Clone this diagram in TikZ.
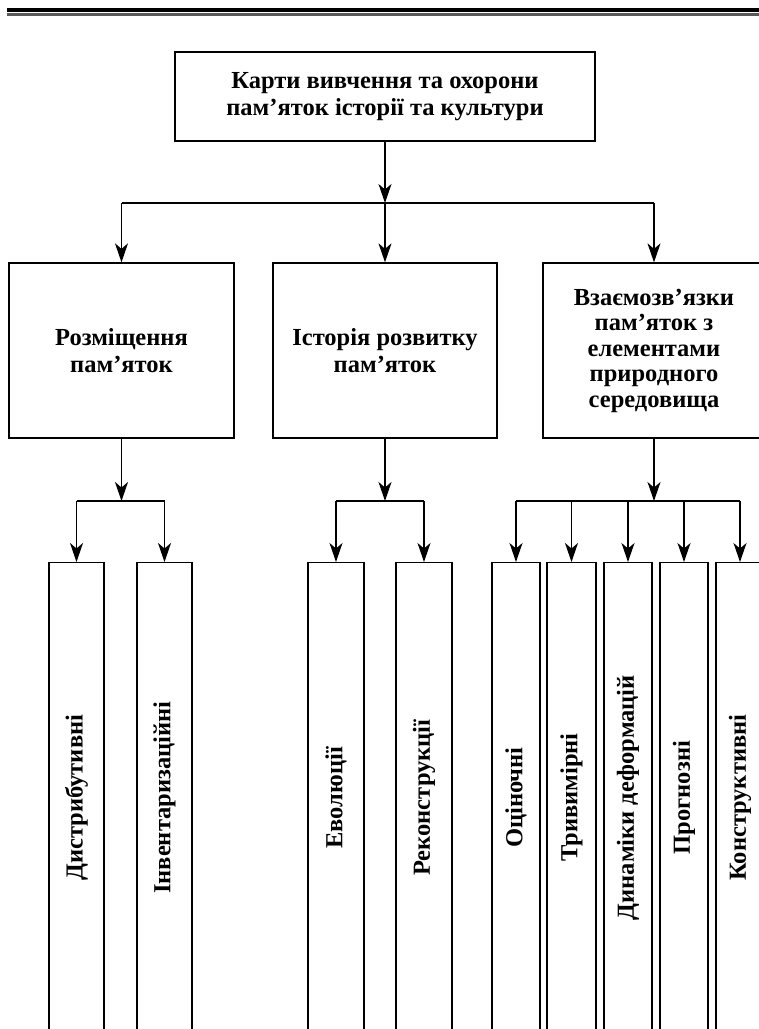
\documentclass[tikz,border=0pt]{standalone}
\usepackage{fontspec}
\setmainfont{Liberation Serif}
\usetikzlibrary{arrows.meta}
\begin{document}
\begin{tikzpicture}[x=1pt,y=-1pt,
  txt/.style={font=\bfseries\fontsize{24.5}{26.5}\selectfont},
  box/.style={draw, line width=1.3pt, txt, align=center, inner sep=0pt},
  vbox/.style={draw, line width=1.3pt, txt, inner sep=0pt, anchor=north, minimum height=470pt},
  conn/.style={line width=1.3pt},
  arr/.style={conn, -{Stealth[length=19pt,width=13pt,inset=5.5pt]}}]
\useasboundingbox (0,0) rectangle (759,1029);
\clip (0,0) rectangle (759,1029);
% top rule
\fill[black] (7,7.5) rectangle (770,12);
\fill[black!65] (7,13.3) rectangle (770,15.7);
% main boxes
\node[box, minimum width=420pt, minimum height=89pt] (top) at (385,96.5)
  {Карти вивчення та охорони\\пам’яток історії та культури};
\node[box, minimum width=225pt, minimum height=175pt] (b1) at (121.5,350.5)
  {Розміщення\\пам’яток};
\node[box, minimum width=224pt, minimum height=175pt] (b2) at (385,350.5)
  {Історія розвитку\\пам’яток};
\node[box, minimum width=222pt, minimum height=175pt, font=\bfseries\fontsize{24.5}{25.5}\selectfont] (b3) at (654,350.5)
  {Взаємозв’язки\\пам’яток з\\елементами\\природного\\середовища};
% vertical boxes
\node[vbox, minimum width=55pt] (d1) at (76.5,562) {\rotatebox{90}{Дистрибутивні}};
\node[vbox, minimum width=55pt] (d2) at (164.5,562) {\rotatebox{90}{Інвентаризаційні}};
\node[vbox, minimum width=56pt] (e1) at (336,562) {\rotatebox{90}{Еволюції}};
\node[vbox, minimum width=56pt] (e2) at (424,562) {\rotatebox{90}{Реконструкції}};
\node[vbox, minimum width=48pt] (g1) at (516,562) {\rotatebox{90}{Оціночні}};
\node[vbox, minimum width=49pt] (g2) at (571.5,562) {\rotatebox{90}{Тривимірні}};
\node[vbox, minimum width=48pt] (g3) at (628,562) {\rotatebox{90}{Динаміки деформацій}};
\node[vbox, minimum width=48pt] (g4) at (684,562) {\rotatebox{90}{Прогнозні}};
\node[vbox, minimum width=48pt] (g5) at (740,562) {\rotatebox{90}{Конструктивні}};
% level 1 connectors
\coordinate (j0) at (385,203);
\draw[arr] (top) -- (j0);
\draw[conn] (b1.north |- j0) -- (b3.north |- j0);
\draw[arr] (b1.north |- j0) -- (b1.north);
\draw[arr] (j0) -- (b2.north);
\draw[arr] (b3.north |- j0) -- (b3.north);
% level 2 connectors
\coordinate (k1) at (121.5,501);
\coordinate (k2) at (385,501);
\coordinate (k3) at (654,501);
\draw[arr] (b1) -- (k1);
\draw[arr] (b2) -- (k2);
\draw[arr] (b3) -- (k3);
\draw[conn] (d1.north |- k1) -- (d2.north |- k1);
\draw[conn] (e1.north |- k2) -- (e2.north |- k2);
\draw[conn] (g1.north |- k3) -- (g5.north |- k3);
\foreach \n/\k in {d1/k1,d2/k1,e1/k2,e2/k2,g1/k3,g2/k3,g3/k3,g4/k3,g5/k3}
  \draw[arr] (\n.north |- \k) -- (\n.north);
\end{tikzpicture}
\end{document}
